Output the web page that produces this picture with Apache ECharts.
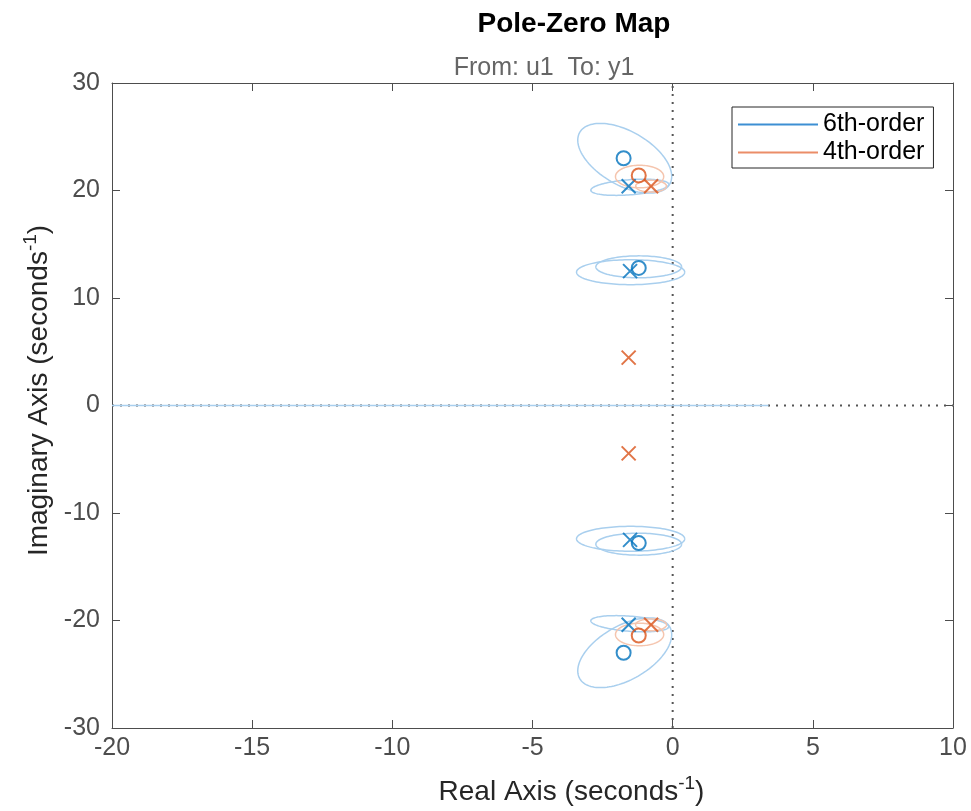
<!DOCTYPE html>
<html>
<head>
<meta charset="utf-8">
<script src="https://cdn.jsdelivr.net/npm/echarts@6/dist/echarts.min.js"></script>
<style>html,body{margin:0;padding:0;background:#fff}#c{width:971px;height:811px}</style>
</head>
<body>
<div id="c"></div>
<script>
// ---- data ----
const xTicks = { min: -20, max: 10, interval: 5 };
const yTicks = { min: -30, max: 30, interval: 10 };

const poles6 = [[-1.57, 20.4], [-1.52, 12.5], [-1.52, -12.5], [-1.57, -20.4]];
const zeros6 = [[-1.75, 23.0], [-1.21, 12.8], [-1.21, -12.8], [-1.75, -23.0]];
const poles4 = [[-0.77, 20.4], [-1.57, 4.45], [-1.57, -4.45], [-0.77, -20.4]];
const zeros4 = [[-1.21, 21.4], [-1.21, -21.4]];

// confidence ellipses: [centerX, centerY, axis1X, axis1Y, axis2X, axis2Y]
const ellipses6 = [
  [-1.71, 23.0, 1.605, -2.41, -0.481, -2.17],
  [-1.71, -23.0, 1.605, 2.41, -0.481, 2.17],
  [-1.53, 20.3, 1.39, 0.28, 0.02, -0.70],
  [-1.53, -20.3, 1.39, -0.28, 0.02, 0.70],
  [-1.50, 12.4, 1.93, 0, 0, 1.16],
  [-1.50, -12.4, 1.93, 0, 0, 1.16],
  [-1.21, 12.9, 1.53, 0, 0, 1.02],
  [-1.21, -12.9, 1.53, 0, 0, 1.02]
];
const ellipses4 = [
  [-1.18, 21.3, 0.86, 0, 0, 1.05],
  [-1.18, -21.3, 0.86, 0, 0, 1.05],
  [-0.77, 20.4, 0.55, 0, 0, 0.55],
  [-0.77, -20.4, 0.55, 0, 0, 0.55]
];
const realLine6 = [[-20, 0], [3.42, 0]];
const zeroVertical = [[0, -30], [0, 30]];
const zeroHorizontal = [[-20, 0], [10, 0]];

const names = ['6th-order', '4th-order'];
// ---- styling ----
const BLUE = '#0072BD', ORANGE = '#D95319';
const BLUE_L = '#a9cfee', ORANGE_L = '#f5c5ae';
const FONT = 'Liberation Sans, Arial, sans-serif';

function ellipseSeries(name, data, color) {
  return {
    type: 'custom', name: name, data: data, silent: true, z: 2,
    encode: { x: 0, y: 1 },
    renderItem: function (params, api) {
      const cx = api.value(0), cy = api.value(1), ax = api.value(2), ay = api.value(3), bx = api.value(4), by = api.value(5);
      const pts = [];
      for (let k = 0; k <= 120; k++) {
        const t = 2 * Math.PI * k / 120;
        pts.push(api.coord([cx + Math.cos(t) * ax + Math.sin(t) * bx, cy + Math.cos(t) * ay + Math.sin(t) * by]));
      }
      return { type: 'polyline', shape: { points: pts }, style: { stroke: color, lineWidth: 1.5, fill: null } };
    }
  };
}
const XPATH = 'path://M0,0L10,10M10,0L0,10';
function markerSeries(name, data, symbol, color, size) {
  return {
    type: 'scatter', name: name, data: data, symbol: symbol, symbolSize: size, silent: true, z: 5,
    itemStyle: { color: 'rgba(0,0,0,0)', borderColor: color, borderWidth: 2 }
  };
}

const chart = echarts.init(document.getElementById('c'), null, { renderer: 'canvas' });
const axisCommon = {
  type: 'value', splitLine: { show: false },
  axisLine: { show: true, onZero: false, lineStyle: { color: '#4d4d4d', width: 1 } },
  axisTick: { show: true, inside: true, length: 8, lineStyle: { color: '#4d4d4d' } }
};
const nameRich = {
  a: { fontFamily: FONT, fontSize: 28, color: '#262626' },
  sup: { fontFamily: FONT, fontSize: 19, color: '#262626', padding: [0, 0, 17, 0] }
};
chart.setOption({
  animation: false,
  backgroundColor: '#fff',
  title: [
    { text: 'Pole-Zero Map', left: 569, top: 5, textAlign: 'center',
      textStyle: { fontFamily: FONT, fontSize: 28, fontWeight: 'bold', color: '#000' } },
    { text: 'From: u1  To: y1', left: 539, top: 51, textAlign: 'center',
      textStyle: { fontFamily: FONT, fontSize: 25, fontWeight: 'normal', color: '#666' } }
  ],
  legend: {
    orient: 'vertical', left: 732, top: 107, align: 'left',
    padding: [5, 9, 3, 6], itemGap: 3, itemWidth: 80, itemHeight: 2,
    icon: 'rect', borderColor: '#262626', borderWidth: 1, backgroundColor: '#fff',
    textStyle: { fontFamily: FONT, fontSize: 25, color: '#000', lineHeight: 22 },
    data: [
      { name: names[0], itemStyle: { color: '#3d8fd3' } },
      { name: names[1], itemStyle: { color: '#eb8d68' } }
    ],
    selectedMode: false
  },
  grid: { left: 112, right: 18, top: 83, bottom: 82, show: false },
  xAxis: [
    Object.assign({}, axisCommon, {
      position: 'bottom', min: xTicks.min, max: xTicks.max, interval: xTicks.interval,
      axisLabel: { fontFamily: FONT, fontSize: 25, color: '#4d4d4d', margin: 8 },
      name: '{a|Real Axis (seconds}{sup|-1}{a|)}', nameLocation: 'middle', nameGap: 46,
      nameTextStyle: { rich: nameRich, padding: [0, 0, 0, 78] }
    }),
    Object.assign({}, axisCommon, {
      position: 'top', min: xTicks.min, max: xTicks.max, interval: xTicks.interval,
      axisLabel: { show: false }
    })
  ],
  yAxis: [
    Object.assign({}, axisCommon, {
      position: 'left', min: yTicks.min, max: yTicks.max, interval: yTicks.interval,
      axisLabel: { fontFamily: FONT, fontSize: 25, color: '#4d4d4d', margin: 12 },
      name: '{a|Imaginary Axis (seconds}{sup|-1}{a|)}', nameLocation: 'middle', nameGap: 54,
      nameTextStyle: { rich: nameRich, padding: [0, 0, 0, 30] }
    }),
    Object.assign({}, axisCommon, {
      position: 'right', min: yTicks.min, max: yTicks.max, interval: yTicks.interval,
      axisLabel: { show: false }
    })
  ],
  series: [
    { type: 'line', name: 'zero-v', data: zeroVertical, symbol: 'none', silent: true, z: 1,
      lineStyle: { color: '#555', width: 2, type: [2, 6] } },
    { type: 'line', name: 'zero-h', data: zeroHorizontal, symbol: 'none', silent: true, z: 1,
      lineStyle: { color: '#555', width: 2, type: [2, 6] } },
    { type: 'line', name: names[0], data: realLine6, symbol: 'none', silent: true, z: 2,
      lineStyle: { color: BLUE_L, width: 1.5 }, itemStyle: { color: BLUE } },
    ellipseSeries(names[0], ellipses6, BLUE_L),
    ellipseSeries(names[1], ellipses4, ORANGE_L),
    markerSeries(names[0], zeros6, 'circle', BLUE, 14),
    markerSeries(names[0], poles6, XPATH, BLUE, 14),
    markerSeries(names[1], zeros4, 'circle', ORANGE, 14),
    markerSeries(names[1], poles4, XPATH, ORANGE, 14)
  ]
});
</script>
</body>
</html>
